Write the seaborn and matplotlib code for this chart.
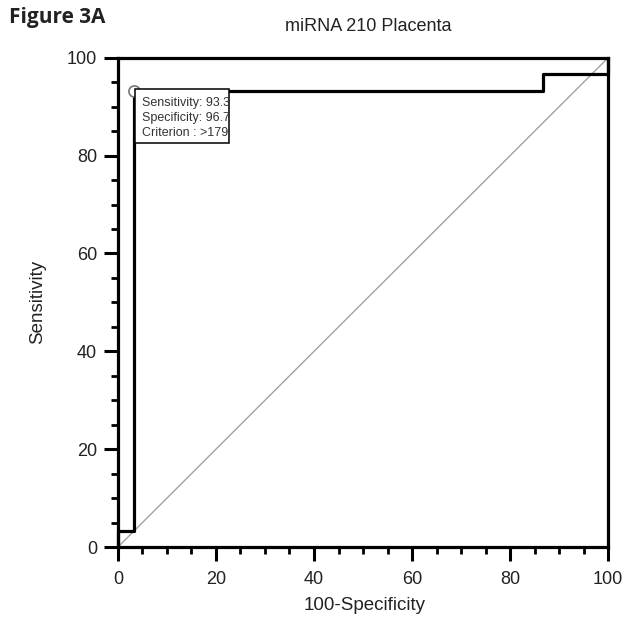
import matplotlib
matplotlib.use("Agg")
import matplotlib.pyplot as plt
import seaborn as sns
import pandas as pd
from matplotlib.patches import Rectangle
from matplotlib.ticker import MultipleLocator

# ROC curve data
fpr = [0, 0, 3.3, 3.3, 86.7, 86.7, 100, 100]
tpr = [0, 3.3, 3.3, 93.3, 93.3, 96.7, 96.7, 100]
diag_x = [0, 100]
diag_y = [0, 100]
cut_x = [3.3]
cut_y = [93.3]
info_lines = ["Sensitivity: 93.3", "Specificity: 96.7", "Criterion : >179"]
title = "miRNA 210 Placenta"
fig_label = "Figure 3A"

sns.set_theme(style="white")
plt.rcParams['font.family'] = ['Liberation Sans', 'DejaVu Sans']

fig = plt.figure(figsize=(6.27, 6.21), dpi=100)
ax = fig.add_axes([0.188, 0.119, 0.782, 0.788])

df = pd.DataFrame({"x": fpr, "y": tpr})
sns.lineplot(data=df, x="x", y="y", sort=False, estimator=None, ax=ax,
             color="black", linewidth=2.3, clip_on=False, zorder=3)
sns.lineplot(x=diag_x, y=diag_y, ax=ax, color="#999999", linewidth=0.9, zorder=2)
ax.scatter(cut_x, cut_y, s=65, facecolor="white", edgecolor="#777777",
           linewidth=1.2, zorder=5, clip_on=False)

ax.set_xlim(0, 100)
ax.set_ylim(0, 100)
for s in ax.spines.values():
    s.set_linewidth(2.3)
    s.set_color("black")

ax.xaxis.set_major_locator(MultipleLocator(20))
ax.xaxis.set_minor_locator(MultipleLocator(5))
ax.yaxis.set_major_locator(MultipleLocator(20))
ax.yaxis.set_minor_locator(MultipleLocator(5))
ax.tick_params(which="major", direction="out", length=10, width=2.2,
               labelsize=13, color="black", labelcolor="#222222", pad=5,
               bottom=True, left=True)
ax.tick_params(axis="x", which="major", pad=7)
ax.tick_params(which="minor", direction="out", length=5, width=2.0,
               color="black", bottom=True, left=True)

ax.set_xlabel("100-Specificity", fontsize=13.5, color="#222222", va="center")
ax.xaxis.set_label_coords(0.504, -0.119)
ax.set_ylabel("Sensitivity", fontsize=13.5, color="#222222", va="center")
ax.yaxis.set_label_coords(-0.163, 0.5)

fig.text(0.588, 1 - 31 / 621, title, fontsize=13, color="#222222",
         ha="center", va="baseline")
fig.text(0.014, 1 - 23 / 621, fig_label, fontsize=15, fontweight="bold",
         family=["Open Sans", "DejaVu Sans"], color="#222222", va="baseline")

# info box
rect = Rectangle((3.47, 82.6), 19.2, 11.06, facecolor="white", edgecolor="black",
                 linewidth=1.1, zorder=6)
ax.add_patch(rect)
for i, line in enumerate(info_lines):
    t = ax.text(4.9, 90.8 - i * 3.05, line, fontsize=9, color="#333333",
                va="center", ha="left", zorder=7)
    t.set_clip_path(rect)

fig.savefig("out.png", dpi=100, facecolor="white")
